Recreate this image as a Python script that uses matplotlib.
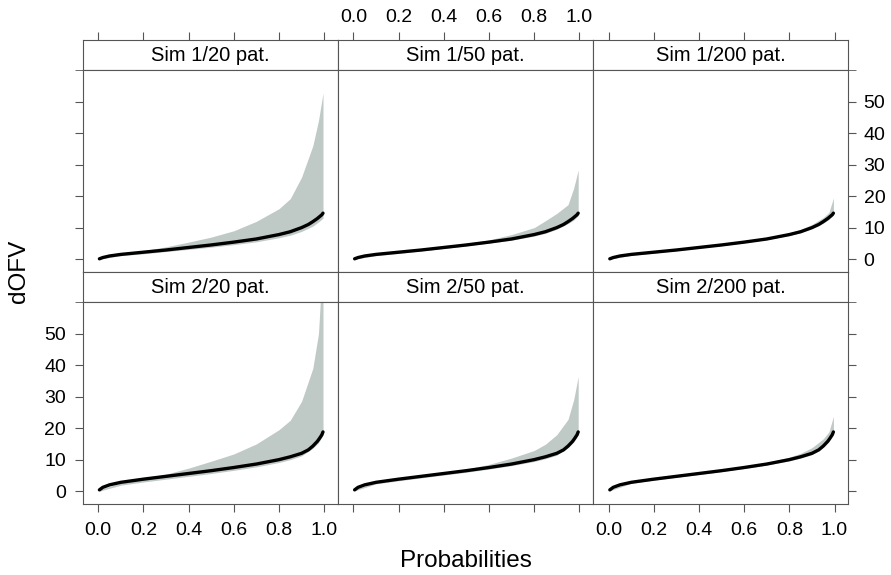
import numpy as np
import matplotlib
matplotlib.use("Agg")
import matplotlib.pyplot as plt

plt.rcParams["font.family"] = ["Liberation Sans", "DejaVu Sans"]

# ------------------------------------------
# DATA
# ------------------------------------------

panel_titles = [
    ["Sim 1/20 pat.", "Sim 1/50 pat.", "Sim 1/200 pat."],
    ["Sim 2/20 pat.", "Sim 2/50 pat.", "Sim 2/200 pat."],
]

# reference curve (one per row)
line_p = [0.005, 0.02, 0.05, 0.1, 0.15, 0.2, 0.3, 0.4, 0.5, 0.6, 0.7,
          0.8, 0.85, 0.9, 0.93, 0.95, 0.97, 0.98, 0.99, 0.995]
line_sim1 = [0.1, 0.5, 1.0, 1.5, 1.85, 2.2, 2.9, 3.7, 4.5, 5.4, 6.4,
             7.8, 8.7, 10.0, 11.0, 11.9, 12.9, 13.5, 14.1, 14.6]
line_sim2 = [0.4, 1.2, 2.0, 2.8, 3.3, 3.8, 4.7, 5.6, 6.5, 7.5, 8.6,
             10.0, 10.9, 12.0, 13.1, 14.3, 15.8, 16.8, 17.9, 18.8]

# simulated interval (lower / upper) per panel
band_p = [0.005, 0.1, 0.2, 0.3, 0.4, 0.5, 0.6, 0.7, 0.8, 0.85, 0.9,
          0.95, 0.975, 0.995]

upper_1_20 = [0.3, 1.6, 2.7, 3.9, 5.4, 7.0, 9.0, 12.0, 16.0, 19.2, 26.0,
              36.0, 44.0, 52.7]
lower_1_20 = [0.0, 1.1, 1.7, 2.4, 3.1, 3.8, 4.6, 5.5, 6.8, 7.6, 8.8,
              10.5, 11.8, 13.0]
upper_1_50 = [0.2, 1.5, 2.3, 3.2, 4.1, 5.0, 6.1, 7.8, 10.0, 12.2, 14.5,
              17.3, 22.5, 28.3]
lower_1_50 = [0.0, 1.1, 1.8, 2.6, 3.4, 4.2, 5.1, 6.0, 7.3, 8.2, 9.5,
              11.3, 12.4, 13.8]
upper_1_200 = [0.2, 1.5, 2.2, 3.0, 3.9, 4.7, 5.7, 6.8, 8.3, 9.4, 11.0,
               13.2, 14.8, 19.4]
lower_1_200 = [0.0, 1.2, 1.9, 2.7, 3.5, 4.3, 5.2, 6.2, 7.5, 8.4, 9.7,
               11.4, 12.6, 14.0]
upper_2_20 = [0.5, 2.6, 3.9, 5.4, 7.3, 9.5, 11.8, 15.0, 19.5, 22.5, 28.5,
              39.0, 50.0, 75.0]
lower_2_20 = [0.0, 1.9, 2.9, 3.8, 4.7, 5.6, 6.6, 7.7, 9.1, 10.0, 11.2,
              13.6, 15.4, 17.8]
upper_2_50 = [0.5, 2.9, 4.0, 4.9, 6.0, 7.0, 8.5, 10.5, 12.9, 14.9, 17.9,
              22.8, 29.0, 36.4]
lower_2_50 = [0.1, 2.3, 3.3, 4.2, 5.1, 6.0, 7.0, 8.1, 9.4, 10.3, 11.4,
              13.8, 15.6, 18.0]
upper_2_200 = [0.4, 3.0, 4.0, 4.9, 5.8, 6.8, 7.9, 9.1, 10.8, 12.0, 13.8,
               16.6, 18.8, 23.7]
lower_2_200 = [0.1, 2.5, 3.5, 4.4, 5.3, 6.2, 7.2, 8.3, 9.6, 10.5, 11.6,
               14.0, 15.8, 18.3]

x_ticks = [0.0, 0.2, 0.4, 0.6, 0.8, 1.0]
y_ticks = [0, 10, 20, 30, 40, 50]

lines = [line_sim1, line_sim2]
bands = [
    [(lower_1_20, upper_1_20), (lower_1_50, upper_1_50), (lower_1_200, upper_1_200)],
    [(lower_2_20, upper_2_20), (lower_2_50, upper_2_50), (lower_2_200, upper_2_200)],
]

# ------------------------------------------
# LAYOUT (pixels)
# ------------------------------------------

W, H = 891, 575
left, right = 82.7, 848.3
col_w = (right - left) / 3
strip_h = 30.5
panel_h = 201.5
top = 39.5

frame_col = "#555555"
band_col = "#bfc9c6"
tick_fs = 14
xlim = (-0.069, 1.061)
ylim = (-3.93, 60.06)


def fig_rect(x0, y0, w, h):
    return [x0 / W, 1 - (y0 + h) / H, w / W, h / H]


fig = plt.figure(figsize=(W / 100, H / 100), dpi=100)

for r in range(2):
    row_top = top + r * (strip_h + panel_h)
    for c in range(3):
        x0 = left + c * col_w

        # strip
        sax = fig.add_axes(fig_rect(x0, row_top, col_w, strip_h))
        sax.set_xlim(xlim)
        sax.set_ylim(0, 1)
        sax.text(0.5, 0.47, panel_titles[r][c], transform=sax.transAxes,
                 ha="center", va="center", fontsize=14.5)
        sax.set_yticks([])
        for s in sax.spines.values():
            s.set_color(frame_col)
        if r == 0:
            sax.xaxis.set_ticks_position("top")
            sax.set_xticks(x_ticks)
            sax.tick_params(axis="x", length=6, color=frame_col,
                            labelsize=tick_fs, pad=4)
            if c == 1:
                sax.set_xticklabels([f"{t:.1f}" for t in x_ticks])
            else:
                sax.set_xticklabels([])
        else:
            sax.set_xticks([])

        # panel
        ax = fig.add_axes(fig_rect(x0, row_top + strip_h, col_w, panel_h))
        lower, upper = bands[r][c]
        ax.fill_between(band_p, lower, upper, color=band_col, lw=0)
        ax.plot(line_p, lines[r], color="black", lw=2.4,
                solid_capstyle="round")
        ax.set_xlim(xlim)
        ax.set_ylim(ylim)
        for s in ax.spines.values():
            s.set_color(frame_col)

        # x ticks on the bottom row only
        if r == 1:
            ax.set_xticks(x_ticks)
            ax.tick_params(axis="x", length=6, color=frame_col,
                           labelsize=tick_fs, pad=7)
            if c == 1:
                ax.set_xticklabels([])
            else:
                ax.set_xticklabels([f"{t:.1f}" for t in x_ticks])
        else:
            ax.set_xticks([])

        # y ticks on the outer columns, plus a short mark at the strip edge
        if c in (0, 2):
            ax.set_yticks(y_ticks)
            ax.set_yticks([ylim[1]], minor=True)
            ax.tick_params(axis="y", which="both", length=6,
                           color=frame_col, labelsize=tick_fs)
            if c == 0:
                ax.tick_params(axis="y", pad=6)
                if r == 0:
                    ax.set_yticklabels([])
            else:
                ax.yaxis.set_ticks_position("right")
                ax.tick_params(axis="y", pad=5)
                if r == 1:
                    ax.set_yticklabels([])
        else:
            ax.set_yticks([])

fig.text((left + right) / 2 / W, 1 - 561 / H, "Probabilities",
         ha="center", va="center", fontsize=17.5)
fig.text(19 / W, 1 - 271 / H, "dOFV", ha="center", va="center",
         rotation=90, fontsize=17.5)

fig.savefig("out.png", dpi=100)
